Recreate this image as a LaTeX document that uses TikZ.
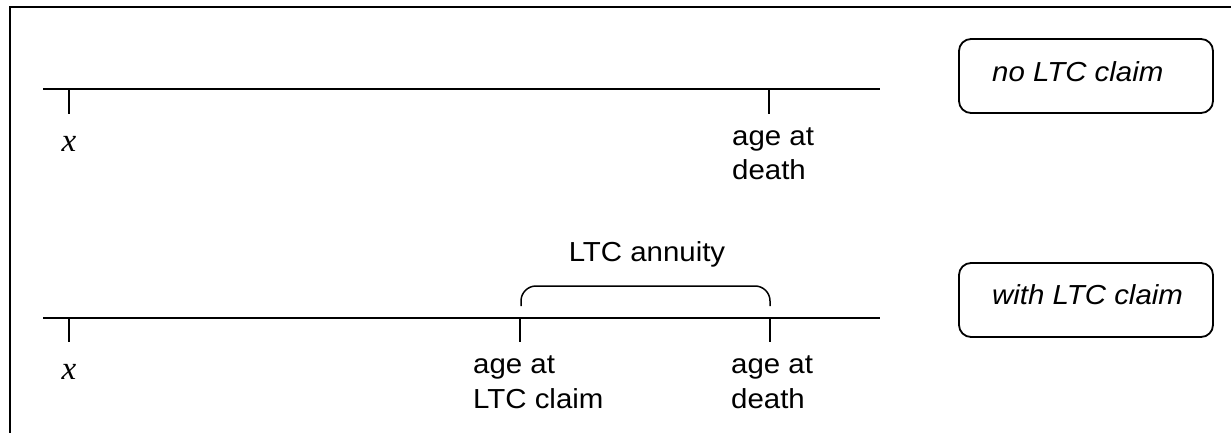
\documentclass[tikz,border=0pt]{standalone}
\usepackage{fontspec}
\setmainfont{Liberation Sans}[FakeStretch=1.07]
\newfontfamily\xfont{Liberation Serif}
\begin{document}
\begin{tikzpicture}[x=1pt,y=-1pt,
  frame/.style={line width=2pt},
  axis/.style={line width=1.8pt},
  tick/.style={line width=1.5pt},
  lbl/.style={inner sep=0pt,anchor=base west,align=left,
    font=\fontsize{27.5}{34.5}\selectfont},
  xlbl/.style={inner sep=0pt,anchor=base,font=\xfont\itshape\fontsize{33}{36}\selectfont},
  casebox/.style={draw,line width=1.8pt,rounded corners=12pt,minimum width=254pt,minimum height=74pt,inner sep=0pt},
  casetxt/.style={inner sep=0pt,anchor=base west,font=\itshape\fontsize{27.5}{34.5}\selectfont}]
\useasboundingbox (0,0) rectangle (1231,433);
% frame
\coordinate (f1) at (10,433);
\coordinate (f2) at (10,7);
\coordinate (f3) at (1231,7);
\draw[frame] (f1) -- (f2) -- (f3);
% top timeline
\coordinate (a1) at (43,89);
\coordinate (a2) at (880,89);
\coordinate (t1) at (69,89);
\coordinate (t1e) at (69,114);
\coordinate (t2) at (769,89);
\coordinate (t2e) at (769,114);
\draw[axis] (a1) -- (a2);
\draw[tick] (t1) -- (t1e);
\draw[tick] (t2) -- (t2e);
\node[xlbl] (x1) at (69,151) {x};
\node[lbl] (d1) at (732,179.5) {age at\\death};
\node[casebox] (b1) at (1086,76) {};
\node[casetxt] (b1t) at (992,82) {no LTC claim};
% bottom timeline
\coordinate (c1) at (43,318);
\coordinate (c2) at (880,318);
\coordinate (s1) at (69,318);
\coordinate (s1e) at (69,342);
\coordinate (s2) at (520,318);
\coordinate (s2e) at (520,342);
\coordinate (s3) at (770,318);
\coordinate (s3e) at (770,342);
\draw[axis] (c1) -- (c2);
\draw[tick] (s1) -- (s1e);
\draw[tick] (s2) -- (s2e);
\draw[tick] (s3) -- (s3e);
\node[xlbl] (x2) at (69,379) {x};
\node[lbl] (cl) at (473,408) {age at\\LTC claim};
\node[lbl] (d2) at (731,408) {age at\\death};
\coordinate (br1) at (521,306);
\coordinate (br2) at (521,286);
\coordinate (br3) at (770,286);
\coordinate (br4) at (770,306);
\draw[tick,rounded corners=15pt] (br1) -- (br2) -- (br3) -- (br4);
\node[lbl,anchor=base] (ann) at (647,261) {LTC annuity};
\node[casebox] (b2) at (1086,300) {};
\node[casetxt] (b2t) at (992,304) {with LTC claim};
\end{tikzpicture}
\end{document}
